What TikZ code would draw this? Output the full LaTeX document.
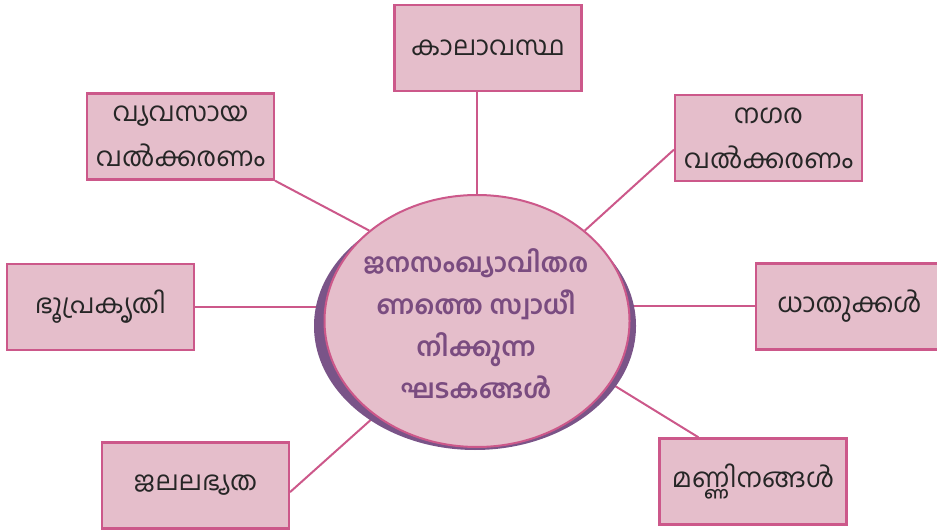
\documentclass[tikz,border=0pt]{standalone}
\usepackage{fontspec}
\usepackage{tikz}
\usetikzlibrary{shapes.geometric,backgrounds}
\newfontfamily\malfont[Script=Malayalam]{Hind Kochi}
\definecolor{boxpink}{RGB}{229,190,203}
\definecolor{linepink}{RGB}{204,88,138}
\definecolor{shadepurple}{RGB}{122,84,136}
\definecolor{textpurple}{RGB}{122,76,128}
\tikzset{
  factor/.style={draw=linepink,fill=boxpink,line width=1.8pt,minimum width=140pt,minimum height=64.5pt,align=center,text=black!85,font=\malfont\fontsize{20}{34}\selectfont},
  link/.style={draw=linepink,line width=1.5pt},
}

\begin{document}
\begin{tikzpicture}[x=0.75pt,y=0.75pt,yscale=-1,xscale=1]
\useasboundingbox (0,0) rectangle (937,530);

%Shape: Ellipse shadow
\node [ellipse,fill=shadepurple,minimum width=241.5pt,minimum height=186pt] (shadow) at (475,326) {};
%Shape: Ellipse
\node [ellipse,draw=linepink,fill=boxpink,line width=1.5pt,minimum width=228.75pt,minimum height=189pt] (centre) at (477,321) {};
% Text Node
\node [align=center,text=textpurple,font=\malfont\bfseries\fontsize{19.7}{31.5}\selectfont] (title) at (476,324) {ജനസംഖ്യാവിതര\\ണത്തെ സ്വാധീ\\നിക്കുന്ന\\ഘടകങ്ങള്‍};

% Boxes
\node [factor] (kala) at (488,48) {കാലാവസ്ഥ};
\node [factor] (vya) at (180.5,136.5) {വ്യവസായ\\വല്‍ക്കരണം};
\node [factor] (nag) at (768.5,138) {നഗര\\വല്‍ക്കരണം};
\node [factor] (bhu) at (100.5,307) {ഭൂപ്രകൃതി};
\node [factor] (dhatu) at (849.5,306.5) {ധാതുക്കള്‍};
\node [factor] (jala) at (195.5,485.5) {ജലലഭ്യത};
\node [factor] (mann) at (753,481.5) {മണ്ണിനങ്ങള്‍};

%Straight Lines
\begin{scope}[on background layer]
\draw [link] (centre.north) -- (centre.north |- kala.south) ;
\draw [link] (vya.south east) -- (centre.140) ;
\draw [link] (nag.187) -- (centre.40) ;
\draw [link] (bhu.east) -- (bhu.east -| centre.west) ;
\draw [link] (dhatu.west) -- (dhatu.west -| centre.east) ;
\draw [link] (jala.356) -- (centre.223) ;
\draw [link] (mann.141) -- (centre.335) ;
\end{scope}

\end{tikzpicture}
\end{document}
